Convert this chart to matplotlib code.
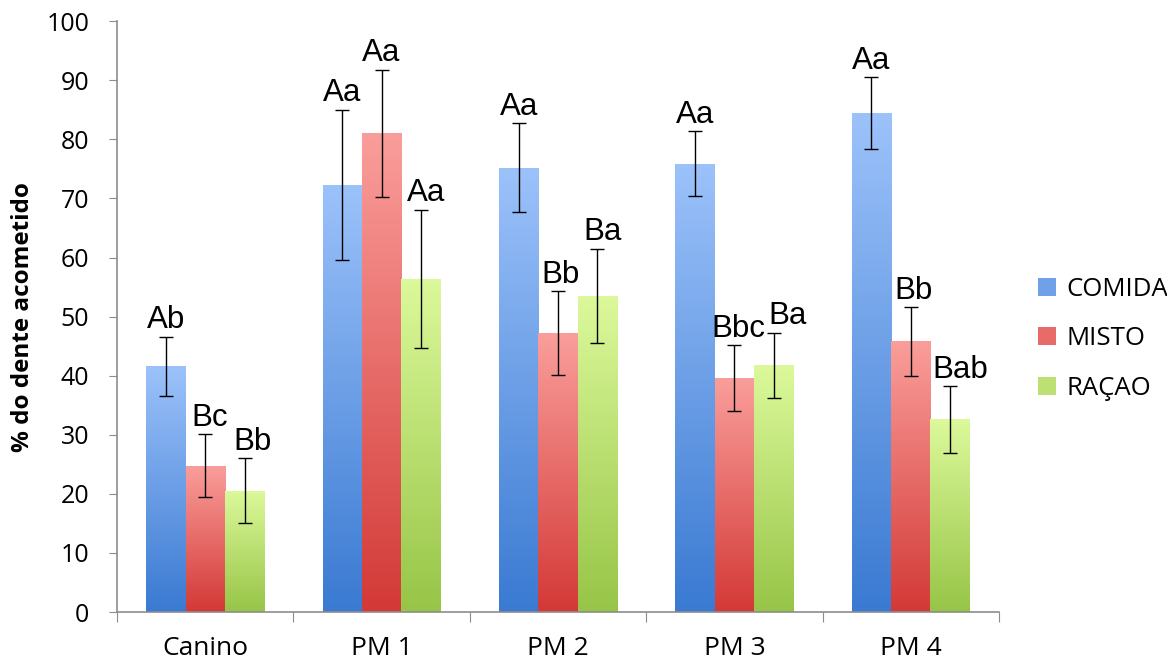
import numpy as np
import matplotlib.pyplot as plt
from matplotlib.colors import LinearSegmentedColormap
from matplotlib.patches import Patch

# dente avaliado e tipo de dieta
categorias = ["Canino", "PM 1", "PM 2", "PM 3", "PM 4"]
series = ["COMIDA", "MISTO", "RAÇAO"]

comida = [41.6, 72.3, 75.2, 75.9, 84.4]
misto = [24.8, 81.0, 47.2, 39.6, 45.8]
racao = [20.5, 56.4, 53.5, 41.8, 32.6]

err_comida = [5.0, 12.7, 7.5, 5.5, 6.1]
err_misto = [5.3, 10.8, 7.1, 5.6, 5.8]
err_racao = [5.5, 11.7, 8.0, 5.5, 5.6]

let_comida = ["Ab", "Aa", "Aa", "Aa", "Aa"]
let_misto = ["Bc", "Aa", "Bb", "Bbc", "Bb"]
let_racao = ["Bb", "Aa", "Ba", "Ba", "Bab"]

valores = [comida, misto, racao]
erros = [err_comida, err_misto, err_racao]
letras = [let_comida, let_misto, let_racao]

# deslocamento horizontal das letras (pt), como no original
dx = [[0, 0, 0, 0, 0],
      [3, 0, 2, 3, 2],
      [6, 4, 4, 10, 7]]

# cores (topo claro -> base escura)
gradientes = [("#9CC2FA", "#3A7AD2"),
              ("#FA9E9B", "#D33936"),
              ("#DCF99B", "#97C547")]

fig = plt.figure(figsize=(11.67, 6.64), dpi=100)
ax = fig.add_axes([0.1003, 0.0783, 0.7557, 0.8897])

largura = 0.223
x = np.arange(len(categorias)) + 0.5
grad = np.linspace(0, 1, 256).reshape(-1, 1)

for i in range(3):
    pos = x + (i - 1) * largura
    cmap = LinearSegmentedColormap.from_list("g%d" % i, [gradientes[i][1], gradientes[i][0]])
    barras = ax.bar(pos, valores[i], largura, color="none", edgecolor="none", zorder=2)
    for b in barras:
        x0 = b.get_x()
        h = b.get_height()
        im = ax.imshow(grad, cmap=cmap, origin="lower", aspect="auto",
                       extent=(x0, x0 + largura, 0, h), zorder=2)
        im.set_clip_path(b)
    ax.errorbar(pos, valores[i], yerr=erros[i], fmt="none", ecolor="black",
                elinewidth=1, capsize=5, capthick=1, zorder=3)
    for p, v, e, t, d in zip(pos, valores[i], erros[i], letras[i], dx[i]):
        ax.annotate(t, (p, v + e), xytext=(d, 1), textcoords="offset points",
                    ha="center", va="bottom", fontsize=22.5, family="Liberation Sans")

ax.set_xlim(0, len(categorias))
ax.set_ylim(0, 100)
ax.set_yticks(np.arange(0, 101, 10))
ax.set_yticklabels([str(v) for v in range(0, 101, 10)], fontsize=18, family="Open Sans")
ax.set_xticks(np.arange(0, len(categorias) + 1))
ax.set_xticklabels([])
ax.set_xticks(x, minor=True)
ax.set_xticklabels(categorias, minor=True, fontsize=19, family="Open Sans")
ax.tick_params(axis="x", which="minor", length=0, pad=17)
ax.tick_params(axis="x", which="major", length=7, color="#8c8c8c", direction="out")
ax.tick_params(axis="y", length=6, color="#8c8c8c", direction="out", pad=14)

for s in ["top", "right"]:
    ax.spines[s].set_visible(False)
for s in ["left", "bottom"]:
    ax.spines[s].set_color("#8c8c8c")
    ax.spines[s].set_linewidth(1.2)

ax.set_ylabel("% do dente acometido", fontsize=17.5, fontweight="bold",
              family="Open Sans", labelpad=8)

handles = [Patch(facecolor=c, edgecolor="none") for c in ["#6FA0E8", "#E76B68", "#BCE073"]]
fig.legend(handles, series, loc="center left", bbox_to_anchor=(0.87, 0.49),
           frameon=False, prop={"family": "Open Sans", "size": 18.5},
           handlelength=0.7, handleheight=0.7, labelspacing=0.95, handletextpad=0.4)

fig.savefig("out.png", dpi=100)
